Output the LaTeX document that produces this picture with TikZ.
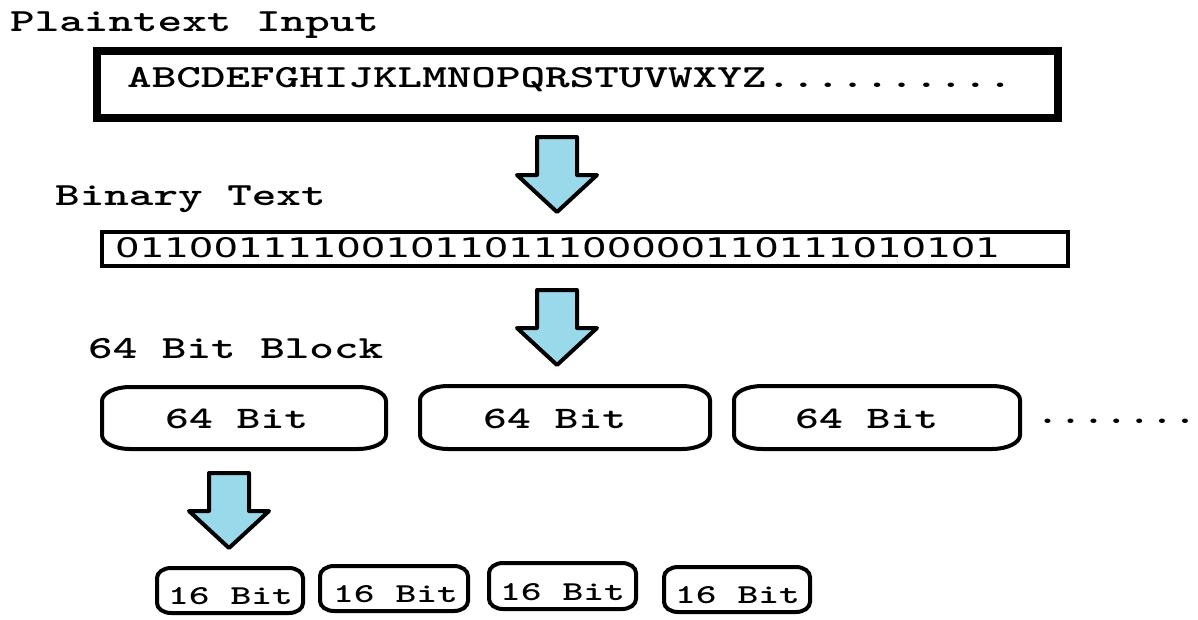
\documentclass[tikz,border=0pt]{standalone}
\usepackage{fontspec}
\usepackage{graphicx}
\newfontfamily\dejavu{DejaVu Sans}
\definecolor{arrowblue}{RGB}{153,217,234}
\newcommand\wide[1]{\scalebox{1.45}[1]{#1}}
\newcommand\ebox[6]{%
  \draw[boxline] (#1,-#2-#6) -- (#1,-#4+#6)
    arc[start angle=180,end angle=270,x radius=#5,y radius=#6] -- (#3-#5,-#4)
    arc[start angle=270,end angle=360,x radius=#5,y radius=#6] -- (#3,-#2-#6)
    arc[start angle=0,end angle=90,x radius=#5,y radius=#6] -- (#1+#5,-#2)
    arc[start angle=90,end angle=180,x radius=#5,y radius=#6] -- cycle;}
\newcommand\barrow[4]{%
  \draw[arr] (#1-20,-#2) -- (#1+20,-#2) -- (#1+20,-#3) -- (#1+40,-#3) -- (#1,-#4)
    -- (#1-40,-#3) -- (#1-20,-#3) -- cycle;}
\tikzset{
  lbl/.style={anchor=base west, inner sep=0pt, font=\ttfamily\bfseries\fontsize{32.3}{36}\selectfont},
  blbl/.style={anchor=base west, inner sep=0pt, font=\ttfamily\bfseries\fontsize{31.3}{36}\selectfont},
  slbl/.style={anchor=base west, inner sep=0pt, font=\ttfamily\bfseries\fontsize{27.3}{32}\selectfont},
  boxline/.style={draw=black, line width=4pt},
  arr/.style={draw=black, fill=arrowblue, line width=4pt, line join=round},
  frame/.style={draw=black, rectangle, inner sep=0pt},
}
\begin{document}
\begin{tikzpicture}[x=1pt,y=1pt]
\useasboundingbox[fill=white] (0,0) rectangle (1198,-619);

% titles
\node[lbl] (title) at (10,-31) {\wide{Plaintext Input}};
\node[lbl] (bintitle) at (55,-205) {\wide{Binary Text}};
\node[lbl] (blocktitle) at (88,-358) {\wide{64 Bit Block}};

% plaintext box
\node[frame, line width=8pt, minimum width=961pt, minimum height=67pt] (plainbox) at (577.5,-84.5) {};
\node[lbl] (plain) at (127,-87) {\wide{ABCDEFGHIJKLMNOPQRSTUVWXYZ..........}};

% binary box
\node[frame, line width=4.5pt, minimum width=966pt, minimum height=34pt] (binbox) at (585,-249) {};
\node[anchor=base west, inner sep=0pt] (bin) at (115,-257)
  {\resizebox{885pt}{20pt}{\dejavu 011001111001011011100000110111010101}};

% 64 bit blocks
\ebox{102}{387}{386}{449}{28}{14}
\ebox{420}{386}{710}{449}{28}{14}
\ebox{734}{386}{1020}{449}{28}{14}
\node[blbl] (b1) at (165,-428) {\wide{64 Bit}};
\node[blbl] (b2) at (483,-428) {\wide{64 Bit}};
\node[blbl] (b3) at (795,-428) {\wide{64 Bit}};
\node[lbl] (dots) at (1036,-423) {\scalebox{1.35}[1]{.......}};

% 16 bit blocks
\ebox{157}{568}{303}{613}{14}{10}
\ebox{320}{566}{468}{611}{14}{10}
\ebox{489}{563}{636}{609}{14}{10}
\ebox{664}{567}{810}{612}{14}{10}
\node[slbl] (s1) at (168,-604) {\wide{16 Bit}};
\node[slbl] (s2) at (333,-602) {\wide{16 Bit}};
\node[slbl] (s3) at (500,-600) {\wide{16 Bit}};
\node[slbl] (s4) at (675,-603) {\wide{16 Bit}};

% block arrows
\barrow{557}{137}{175}{212}
\barrow{557}{290}{328}{365}
\barrow{229}{473}{511}{548}
\end{tikzpicture}
\end{document}
